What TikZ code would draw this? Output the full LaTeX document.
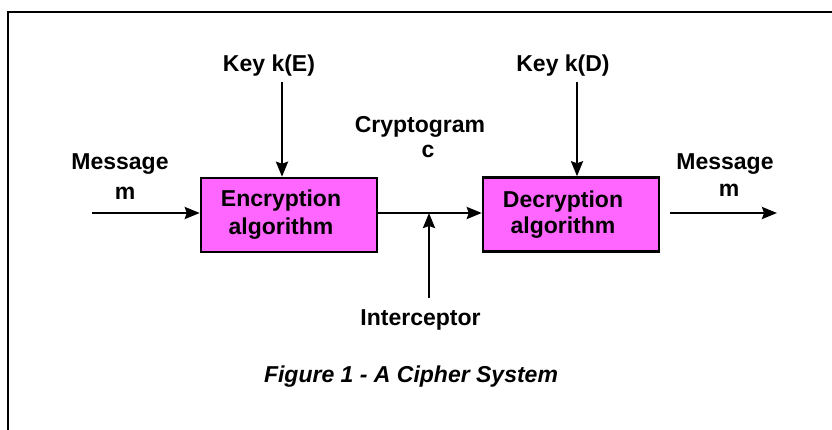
\documentclass[tikz,border=0pt]{standalone}
\usepackage{fontspec}
\setmainfont{Liberation Sans}
\usetikzlibrary{arrows.meta}
\definecolor{boxfill}{RGB}{255,102,255}
\tikzset{
  txt/.style={font=\fontsize{23}{25}\selectfont\bfseries, inner sep=0pt, align=center},
  algbox/.style={draw, line width=2.5pt, fill=boxfill, minimum width=176pt, minimum height=74pt, inner sep=0pt, txt},
  conn/.style={line width=2.4pt, -{Stealth[length=15pt,width=12pt,inset=2pt]}},
  frame/.style={line width=2.7pt}
}
\begin{document}
\begin{tikzpicture}[x=1pt,y=-1pt]
\useasboundingbox (0,0) rectangle (832,430);
\draw[frame] (8,440) -- (8,12) -- (840,12);

\node[algbox] (enc) at (289,215) {Encryption\hspace*{16pt}\\[3pt]algorithm\hspace*{16pt}};
\node[algbox] (dec) at (571,214.5) {Decryption\hspace*{16pt}\\[1pt]algorithm\hspace*{16pt}};

\node[txt, anchor=base] (keyE) at (269,72) {Key k(E)};
\node[txt, anchor=base] (keyD) at (563,72) {Key k(D)};
\node[txt] (msgin) at (120,177) {Message\\[5pt]\hspace*{10pt}m};
\node[txt] (msgout) at (725,175.5) {Message\\[2pt]\hspace*{8pt}m};
\node[txt] (crypt) at (420,137) {Cryptogram\\\hspace*{16pt}c};
\node[txt, anchor=base] (inter) at (420.5,325) {Interceptor};
\node[txt, anchor=base, font=\fontsize{23}{25}\selectfont\bfseries\itshape] (caption) at (411,382) {Figure 1 - A Cipher System};

\coordinate (inA) at (92,213);
\coordinate (outA) at (670,213);
\coordinate (outB) at (777,213);
\coordinate (kEtop) at (282,82);
\coordinate (kDtop) at (577,82);
\coordinate (ibot) at (429,298);
\coordinate (itip) at (429,213);

\draw[conn] (inA) -- (enc.west |- inA);
\draw[conn] (enc.east |- inA) -- (dec.west |- inA);
\draw[conn] (outA) -- (outB);
\draw[conn] (kEtop) -- (kEtop |- enc.north);
\draw[conn] (kDtop) -- (kDtop |- dec.north);
\draw[conn] (ibot) -- (itip);
\end{tikzpicture}
\end{document}
